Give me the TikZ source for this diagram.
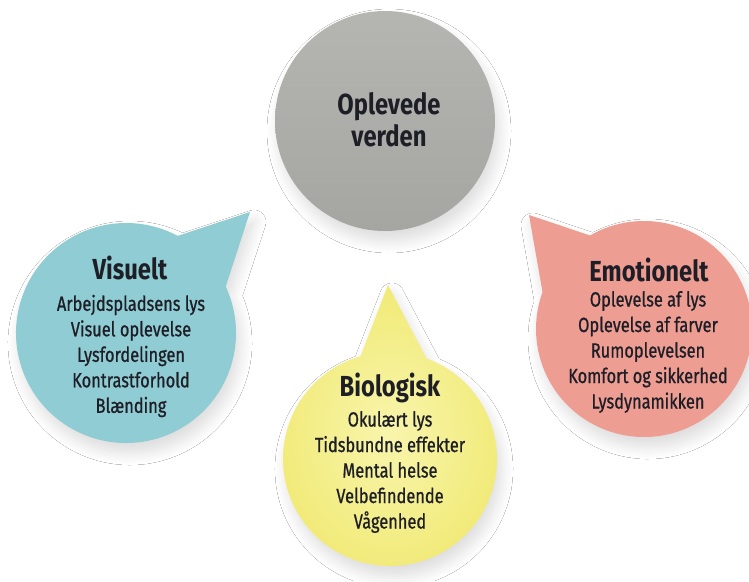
\documentclass[tikz,border=0pt]{standalone}
\usepackage{fontspec}
\setmainfont{Fira Sans}[FakeStretch=0.82]
\newfontfamily\bodyfont{Fira Sans}[FakeStretch=0.80, FakeBold=0.8]
\usetikzlibrary{shadows.blur}
\definecolor{txt}{HTML}{1E1E26}
\definecolor{grayTop}{HTML}{B5B6B2}
\definecolor{grayBot}{HTML}{A5A6A1}
\definecolor{blueFill}{HTML}{90CCD3}
\definecolor{redFill}{HTML}{EE9D93}
\definecolor{yelIn}{HTML}{F8F5AC}
\definecolor{yelOut}{HTML}{F1EA76}
\tikzset{
  softshadow/.style={blur shadow={shadow xshift=4pt, shadow yshift=-10pt, shadow blur radius=12pt, shadow blur steps=12, shadow opacity=14}},
  ttl/.style={font=\bfseries\fontsize{29}{32}\selectfont, text=txt, align=center, inner sep=0pt},
  body/.style={font=\bodyfont\fontsize{20.5}{25.5}\selectfont, text=txt, align=center, inner sep=0pt},
  centre/.style={font=\bfseries\fontsize{29}{32}\selectfont, text=txt, align=center, inner sep=0pt},
}
\begin{document}
\begin{tikzpicture}[x=1pt,y=-1pt]
\useasboundingbox[fill=white] (0,0) rectangle (749,581);
% central grey circle
\node[circle, minimum size=220pt, inner sep=0pt, top color=grayTop, bottom color=grayBot, softshadow] (gray) at (385,121) {};
\node[centre] (graytext) at (389,120) {Oplevede\\verden};
% blue bubble
\path[fill=blueFill, softshadow] (126,333) ++(-25:110) arc[start angle=-25, end angle=298, radius=110] -- (250,212) -- cycle;
\node[ttl] (vtitle) at (130,268) {Visuelt};
\node[body] (vbody) at (131,356) {Arbejdspladsens lys\\Visuel oplevelse\\Lysfordelingen\\Kontrastforhold\\Blænding};
% red bubble
\path[fill=redFill, softshadow] (644,329) ++(240:108) arc[start angle=240, end angle=560, radius=108] -- (529,215) -- cycle;
\node[ttl] (etitle) at (649,270) {Emotionelt};
\node[body] (ebody) at (648,352) {Oplevelse af lys\\Oplevelse af farver\\Rumoplevelsen\\Komfort og sikkerhed\\Lysdynamikken};
% yellow bubble
\path[inner color=yelIn, outer color=yelOut, softshadow] (390,459) ++(290:107) arc[start angle=290, end angle=614, radius=107] -- (388,285) -- cycle;
\node[ttl] (btitle) at (390,388) {Biologisk};
\node[body] (bbody) at (390,472) {Okulært lys\\Tidsbundne effekter\\Mental helse\\Velbefindende\\Vågenhed};
\end{tikzpicture}
\end{document}
